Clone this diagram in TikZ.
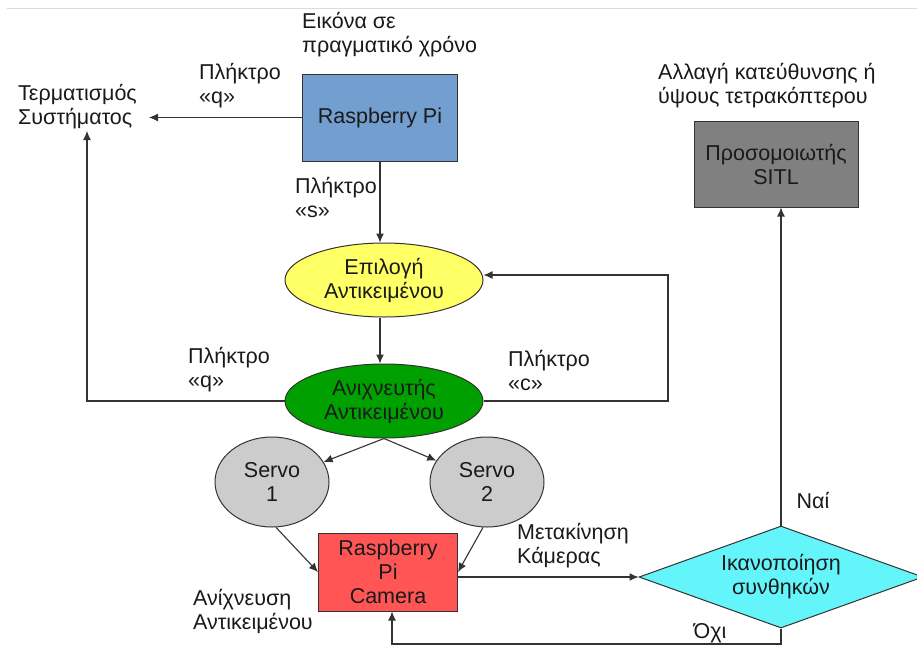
\documentclass[tikz,border=0pt]{standalone}
\usepackage{fontspec}
\setmainfont{Liberation Sans}
\usetikzlibrary{arrows.meta,shapes.geometric}
\definecolor{rpiblue}{RGB}{114,159,207}
\definecolor{selyellow}{RGB}{255,255,102}
\definecolor{detgreen}{RGB}{0,160,0}
\definecolor{servogray}{RGB}{204,204,204}
\definecolor{camred}{RGB}{255,85,85}
\definecolor{sitlgray}{RGB}{128,128,128}
\definecolor{diacyan}{RGB}{100,245,250}
\definecolor{edgec}{RGB}{51,51,51}
\definecolor{txt}{RGB}{26,26,26}
\begin{document}
\begin{tikzpicture}[x=1pt,y=-1pt,
  every node/.style={font=\fontsize{21.5}{24}\selectfont, text=txt},
  shapebox/.style={draw=edgec, line width=1pt, align=center, inner sep=0pt},
  rectbox/.style={shapebox, rectangle},
  ellbox/.style={shapebox, ellipse},
  lbl/.style={anchor=west, align=left, inner sep=0pt},
  arr/.style={draw=edgec, line width=1.1pt, -{Latex[length=9pt,width=8pt]}},
  ln/.style={draw=edgec, line width=1.1pt}]
\useasboundingbox (0,0) rectangle (917,646);
\draw[draw={rgb,255:red,220;green,220;blue,220}, line width=1pt] (7,8) -- (917,8);

% nodes
\node[rectbox, fill=rpiblue, minimum width=155pt, minimum height=87pt] (rpi) at (380,117.5) {Raspberry Pi};
\node[lbl] (term) at (18,107) {Τερματισμός\\Συστήματος};
\node[lbl] (rtlbl) at (302,35) {Εικόνα σε\\πραγματικό χρόνο};
\node[lbl] (qlbl) at (199,86) {Πλήκτρο\\«q»};
\node[lbl] (slbl) at (295,197) {Πλήκτρο\\«s»};
\node[ellbox, fill=selyellow, minimum width=198pt, minimum height=74pt] (sel) at (384,280) {Επιλογή\\Αντικειμένου};
\node[ellbox, fill=detgreen, minimum width=198pt, minimum height=74pt] (det) at (384,401) {Ανιχνευτής\\Αντικειμένου};
\node[lbl] (qlbl2) at (188,370) {Πλήκτρο\\«q»};
\node[lbl] (clbl) at (508,370) {Πλήκτρο\\«c»};
\node[ellbox, fill=servogray, minimum width=114pt, minimum height=90pt] (servo1) at (272,482) {Servo\\1};
\node[ellbox, fill=servogray, minimum width=114pt, minimum height=90pt] (servo2) at (487,482) {Servo\\2};
\node[rectbox, fill=camred, minimum width=139pt, minimum height=78pt] (cam) at (388,572) {Raspberry\\Pi\\Camera};
\node[lbl] (movlbl) at (517,546) {Μετακίνηση\\Κάμερας};
\node[lbl] (detlbl) at (193,611) {Ανίχνευση\\Αντικειμένου};
\node[shapebox, diamond, fill=diacyan, shape aspect=2.78, minimum width=284pt, minimum height=102pt] (dia) at (781,577) {Ικανοποίηση\\συνθηκών};
\node[rectbox, fill=sitlgray, minimum width=164pt, minimum height=86pt] (sitl) at (776,164) {Προσομοιωτής\\SITL};
\node[lbl] (chlbl) at (658,86) {Αλλαγή κατεύθυνσης ή\\ύψους τετρακόπτερου};
\node (yes) at (813,500) {Ναί};
\node (no) at (710,633) {Όχι};

% coordinates for free ends
\coordinate (termin) at (149,117.5);
\coordinate (termup) at (87,131);
\coordinate (rloop) at (668,275);
\coordinate (bot) at (392,644);

% connectors
\draw[arr] (rpi.west) -- (termin);
\draw[arr] (rpi.south) -- (rpi.south |- sel.north);
\draw[arr] (sel.south -| rpi.south) -- (det.north -| rpi.south);
\draw[arr] (det.west) -| (termup);
\draw[arr] (det.east) -| (rloop) -- (rloop -| sel.east);
\draw[arr] (det.south) -- (servo1);
\draw[arr] (det.south) -- (servo2);
\draw[arr] (servo1.-85) -- (cam.west);
\draw[arr] (servo2.-95) -- (cam.east);
\draw[arr] (dia.west -| cam.east) -- (dia.west);
\draw[arr] (dia.north) -- (dia.north |- sitl.south);
\draw[arr] (dia.south) |- (bot) -- (bot |- cam.south);
\end{tikzpicture}
\end{document}
